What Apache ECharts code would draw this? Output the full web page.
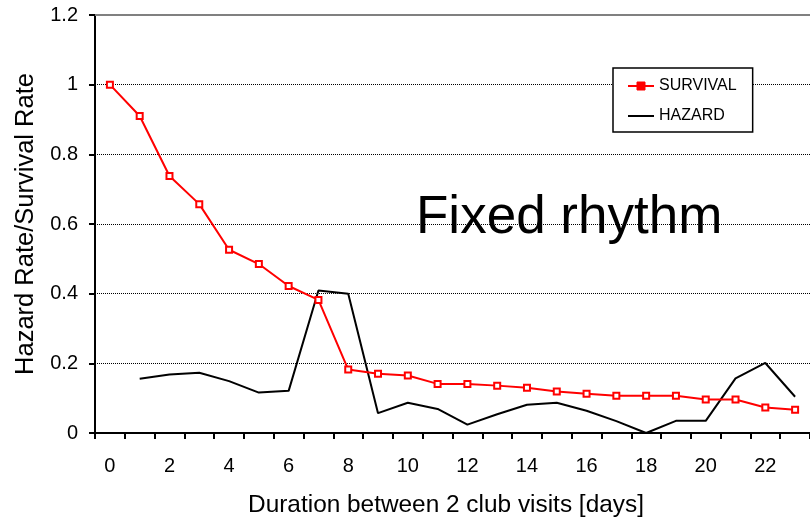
<!DOCTYPE html>
<html>
<head>
<meta charset="utf-8">
<script src="https://cdn.jsdelivr.net/npm/echarts@6/dist/echarts.min.js"></script>
<style>
  html, body { margin: 0; padding: 0; background: #fff; }
  #chart { width: 810px; height: 522px; }
</style>
</head>
<body>
<div id="chart"></div>
<script>
// Days between two club visits (one category per day)
const days = ['0','1','2','3','4','5','6','7','8','9','10','11','12','13','14','15','16','17','18','19','20','21','22','23'];

// Share of members still without a return visit
const survival = [1.0, 0.91, 0.738, 0.657, 0.526, 0.485, 0.422, 0.382, 0.182, 0.170, 0.165, 0.141,
                  0.141, 0.136, 0.130, 0.119, 0.113, 0.107, 0.107, 0.107, 0.096, 0.096, 0.073, 0.067];

// Conditional return rate per day (undefined on day 0)
const hazard = [null, 0.156, 0.168, 0.173, 0.149, 0.116, 0.121, 0.409, 0.400, 0.057, 0.087, 0.069,
                0.024, 0.054, 0.081, 0.087, 0.064, 0.034, 0.000, 0.035, 0.035, 0.157, 0.201, 0.104];

const seriesNames = ['SURVIVAL', 'HAZARD'];
const yMin = 0, yMax = 1.2, yStep = 0.2;

const FONT = '"Liberation Sans", Arial, Helvetica, sans-serif';

const chart = echarts.init(document.getElementById('chart'), null, { renderer: 'canvas' });

chart.setOption({
  animation: false,
  backgroundColor: '#ffffff',
  textStyle: { fontFamily: FONT },
  grid: { left: 95, top: 15, bottom: 89, right: -2.6, containLabel: false },
  legend: {
    orient: 'vertical',
    left: 613,
    top: 68,
    data: [
      // filled red square on the survival key
      { name: seriesNames[0], itemStyle: { color: '#ff0000', borderColor: '#ff0000', borderWidth: 1 } },
      // plain line for the hazard key
      { name: seriesNames[1], itemStyle: { opacity: 0 } }
    ],
    backgroundColor: '#ffffff',
    borderColor: '#000000',
    borderWidth: 1.5,
    borderRadius: 0,
    padding: [10, 16, 8, 14],
    itemWidth: 26,
    itemHeight: 10,
    itemGap: 14,
    textStyle: { fontFamily: FONT, fontSize: 16, color: '#000' }
  },
  xAxis: {
    type: 'category',
    data: days,
    boundaryGap: true,
    name: 'Duration between 2 club visits [days]',
    nameLocation: 'middle',
    nameGap: 60,
    nameTextStyle: { fontFamily: FONT, fontSize: 24.4, color: '#000', padding: [0, 13, 0, 0] },
    axisLine: { lineStyle: { color: '#000', width: 2 } },
    axisTick: { show: true, interval: 0, alignWithLabel: false, length: 6, lineStyle: { color: '#000', width: 2 } },
    axisLabel: { interval: 1, margin: 23, fontFamily: FONT, fontSize: 20, color: '#000' },
    splitLine: { show: false }
  },
  yAxis: {
    type: 'value',
    min: yMin,
    max: yMax,
    interval: yStep,
    name: 'Hazard Rate/Survival Rate',
    nameLocation: 'middle',
    nameRotate: 90,
    nameGap: 56,
    nameTextStyle: { fontFamily: FONT, fontSize: 25.5, color: '#000' },
    axisLine: { show: true, lineStyle: { color: '#000', width: 2 } },
    axisTick: { show: true, length: 6, lineStyle: { color: '#000', width: 2 } },
    axisLabel: { margin: 17, fontFamily: FONT, fontSize: 20, color: '#000' },
    splitLine: { show: true, lineStyle: { color: '#000', width: 1, type: [1, 1] } }
  },
  graphic: [{
    type: 'text',
    left: 416,
    top: 192,
    style: { text: 'Fixed rhythm', font: '53px ' + FONT, fill: '#000' },
    silent: true
  }],
  series: [
    {
      name: seriesNames[0],
      type: 'line',
      data: survival,
      symbol: 'rect',
      symbolSize: 6,
      showAllSymbol: true,
      lineStyle: { color: '#ff0000', width: 2 },
      itemStyle: { color: '#ffffff', borderColor: '#ff0000', borderWidth: 2 },
      z: 3,
      markLine: {
        silent: true,
        symbol: 'none',
        label: { show: false },
        lineStyle: { color: '#808080', width: 2, type: 'solid' },
        data: [{ yAxis: yMax }]
      }
    },
    {
      name: seriesNames[1],
      type: 'line',
      data: hazard,
      symbol: 'none',
      connectNulls: false,
      lineStyle: { color: '#000000', width: 2 },
      itemStyle: { color: '#000000' },
      z: 2
    }
  ]
});
</script>
</body>
</html>
